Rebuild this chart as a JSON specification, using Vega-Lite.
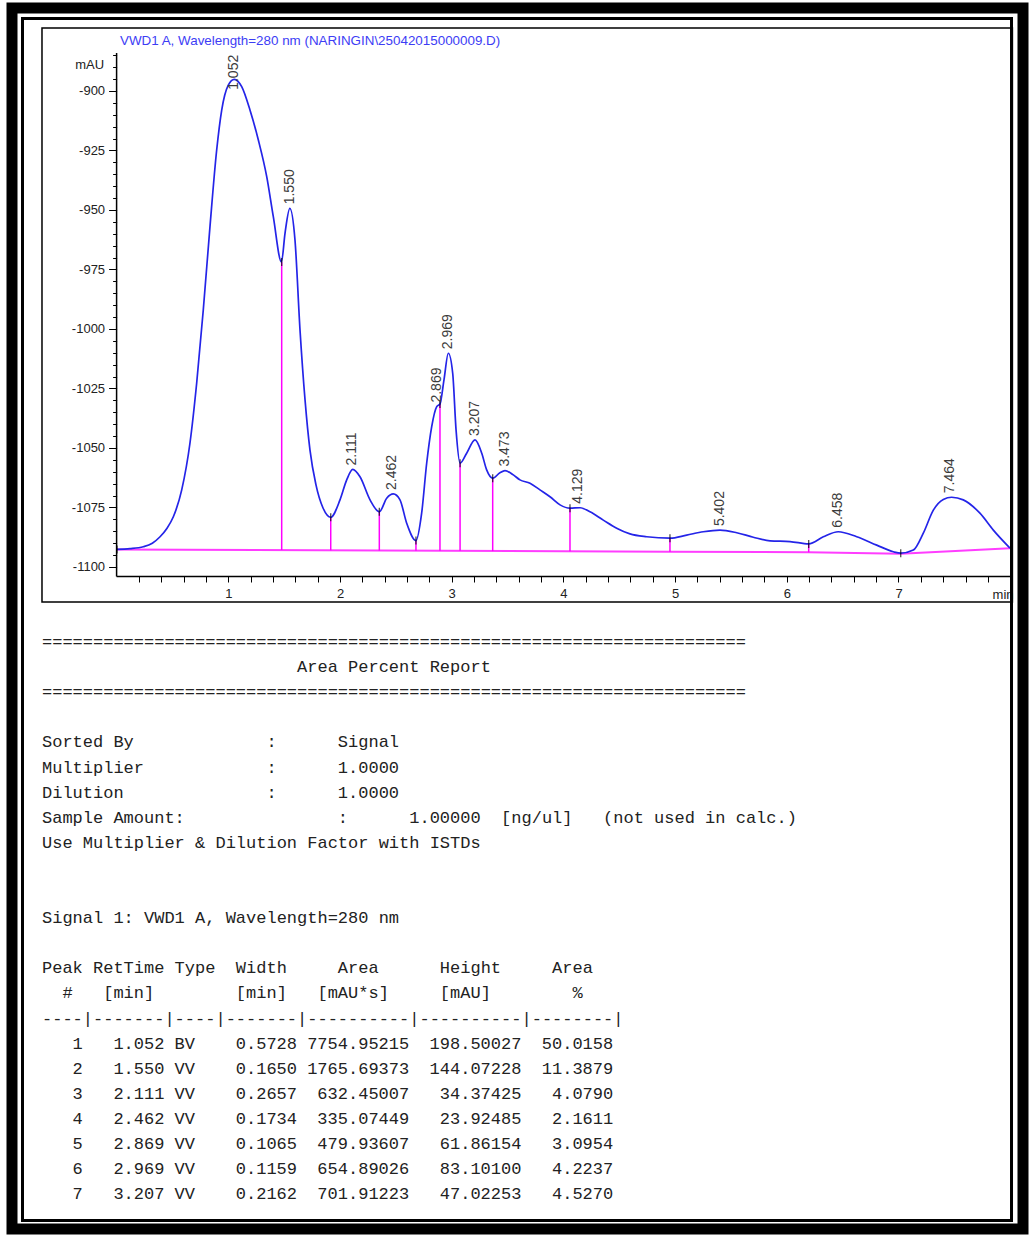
{
  "$schema": "https://vega.github.io/schema/vega-lite/v6.json",
  "width": 1011,
  "height": 1221,
  "padding": {"left": 12, "top": 8, "right": 9, "bottom": 7},
  "autosize": {"type": "none"},
  "background": "white",
  "config": {
    "view": {"stroke": "#000000", "strokeWidth": 11, "fill": "white"},
    "font": "Liberation Sans"
  },
  "title": {
    "text": "VWD1 A, Wavelength=280 nm (NARINGIN\\25042015000009.D)",
    "anchor": "start",
    "frame": "group",
    "dx": 108,
    "offset": -46,
    "baseline": "middle",
    "font": "Liberation Sans",
    "fontSize": 13.4,
    "fontWeight": "normal",
    "color": "#3d3df5"
  },
  "datasets": {
    "curve": [
      {"t": 0.000, "v": -1092.6}, {"t": 0.120, "v": -1092.3}, {"t": 0.239, "v": -1091.5}, {"t": 0.320, "v": -1090.0},
      {"t": 0.389, "v": -1087.3}, {"t": 0.450, "v": -1083.8}, {"t": 0.508, "v": -1078.9}, {"t": 0.583, "v": -1067.6},
      {"t": 0.657, "v": -1047.9}, {"t": 0.717, "v": -1022.7}, {"t": 0.776, "v": -992.0}, {"t": 0.836, "v": -957.0},
      {"t": 0.896, "v": -924.8}, {"t": 0.941, "v": -908.0}, {"t": 1.000, "v": -897.5}, {"t": 1.054, "v": -895.1},
      {"t": 1.120, "v": -898.2}, {"t": 1.194, "v": -908.0}, {"t": 1.269, "v": -920.6}, {"t": 1.344, "v": -936.0},
      {"t": 1.403, "v": -952.8}, {"t": 1.476, "v": -971.8}, {"t": 1.508, "v": -959.7}, {"t": 1.551, "v": -949.3},
      {"t": 1.597, "v": -962.6}, {"t": 1.642, "v": -1000.4}, {"t": 1.687, "v": -1029.8}, {"t": 1.731, "v": -1050.8},
      {"t": 1.785, "v": -1065.5}, {"t": 1.848, "v": -1075.2}, {"t": 1.917, "v": -1079.1}, {"t": 2.000, "v": -1071.8},
      {"t": 2.060, "v": -1063.4}, {"t": 2.114, "v": -1059.0}, {"t": 2.179, "v": -1062.1}, {"t": 2.269, "v": -1071.8},
      {"t": 2.352, "v": -1076.8}, {"t": 2.418, "v": -1071.1}, {"t": 2.477, "v": -1069.3}, {"t": 2.537, "v": -1071.8},
      {"t": 2.597, "v": -1081.6}, {"t": 2.680, "v": -1088.9}, {"t": 2.731, "v": -1077.4}, {"t": 2.776, "v": -1056.4},
      {"t": 2.821, "v": -1041.0}, {"t": 2.866, "v": -1032.6}, {"t": 2.895, "v": -1031.5}, {"t": 2.931, "v": -1021.4},
      {"t": 2.970, "v": -1010.2}, {"t": 3.009, "v": -1018.6}, {"t": 3.039, "v": -1042.4}, {"t": 3.075, "v": -1056.4},
      {"t": 3.134, "v": -1052.2}, {"t": 3.209, "v": -1046.6}, {"t": 3.269, "v": -1052.2}, {"t": 3.313, "v": -1059.2},
      {"t": 3.367, "v": -1062.7}, {"t": 3.432, "v": -1060.4}, {"t": 3.477, "v": -1059.5}, {"t": 3.552, "v": -1061.3},
      {"t": 3.611, "v": -1063.4}, {"t": 3.701, "v": -1064.8}, {"t": 3.790, "v": -1067.6}, {"t": 3.880, "v": -1070.5},
      {"t": 3.970, "v": -1073.9}, {"t": 4.059, "v": -1075.3}, {"t": 4.149, "v": -1075.1}, {"t": 4.238, "v": -1076.8},
      {"t": 4.357, "v": -1080.3}, {"t": 4.477, "v": -1083.7}, {"t": 4.596, "v": -1086.1}, {"t": 4.746, "v": -1087.3},
      {"t": 4.954, "v": -1087.9}, {"t": 5.104, "v": -1086.6}, {"t": 5.252, "v": -1085.2}, {"t": 5.402, "v": -1084.5},
      {"t": 5.552, "v": -1085.6}, {"t": 5.700, "v": -1087.5}, {"t": 5.850, "v": -1089.0}, {"t": 6.029, "v": -1089.3},
      {"t": 6.196, "v": -1090.3}, {"t": 6.327, "v": -1087.3}, {"t": 6.461, "v": -1085.2}, {"t": 6.626, "v": -1087.3},
      {"t": 6.805, "v": -1090.8}, {"t": 6.954, "v": -1093.6}, {"t": 7.020, "v": -1094.2}, {"t": 7.133, "v": -1092.9},
      {"t": 7.222, "v": -1085.8}, {"t": 7.312, "v": -1076.1}, {"t": 7.401, "v": -1071.6}, {"t": 7.476, "v": -1070.7},
      {"t": 7.580, "v": -1071.8}, {"t": 7.729, "v": -1077.4}, {"t": 7.849, "v": -1084.5}, {"t": 7.998, "v": -1092.1}
    ],
    "baseline": [
      {"t": 0.0, "v": -1092.6}, {"t": 4.954, "v": -1093.6}, {"t": 6.196, "v": -1093.8}, {"t": 7.020, "v": -1094.4}, {"t": 7.998, "v": -1092.1}
    ],
    "splits": [
      {"t": 0.004, "v": -1092.6, "b": -1092.6},
      {"t": 1.478, "v": -971.8, "b": -1092.9},
      {"t": 1.917, "v": -1079.1, "b": -1093.0},
      {"t": 2.352, "v": -1076.8, "b": -1093.1},
      {"t": 2.680, "v": -1088.9, "b": -1093.2},
      {"t": 2.895, "v": -1031.5, "b": -1093.2},
      {"t": 3.075, "v": -1056.4, "b": -1093.2},
      {"t": 3.367, "v": -1062.7, "b": -1093.3},
      {"t": 4.059, "v": -1075.3, "b": -1093.4},
      {"t": 4.954, "v": -1087.9, "b": -1093.6},
      {"t": 6.196, "v": -1090.3, "b": -1093.8},
      {"t": 7.020, "v": -1094.2, "b": -1094.4}
    ],
    "peaks": [
      {"peak": 1, "ret": 1.052, "type": "BV", "width": 0.5728, "area": 7754.95215, "height": 198.50027, "pct": 50.0158, "apex": -895.1},
      {"peak": 2, "ret": 1.550, "type": "VV", "width": 0.1650, "area": 1765.69373, "height": 144.07228, "pct": 11.3879, "apex": -949.3},
      {"peak": 3, "ret": 2.111, "type": "VV", "width": 0.2657, "area": 632.45007, "height": 34.37425, "pct": 4.0790, "apex": -1059.0},
      {"peak": 4, "ret": 2.462, "type": "VV", "width": 0.1734, "area": 335.07449, "height": 23.92485, "pct": 2.1611, "apex": -1069.3},
      {"peak": 5, "ret": 2.869, "type": "VV", "width": 0.1065, "area": 479.93607, "height": 61.86154, "pct": 3.0954, "apex": -1032.6},
      {"peak": 6, "ret": 2.969, "type": "VV", "width": 0.1159, "area": 654.89026, "height": 83.10100, "pct": 4.2237, "apex": -1010.2},
      {"peak": 7, "ret": 3.207, "type": "VV", "width": 0.2162, "area": 701.91223, "height": 47.02253, "pct": 4.5270, "apex": -1046.6},
      {"peak": 8, "ret": 3.473, "apex": -1059.5},
      {"peak": 9, "ret": 4.129, "apex": -1075.1},
      {"peak": 10, "ret": 5.402, "apex": -1084.5},
      {"peak": 11, "ret": 6.458, "apex": -1085.2},
      {"peak": 12, "ret": 7.464, "apex": -1070.7}
    ],
    "report": [
      {"line": 0, "text": "====================================================================="},
      {"line": 1, "text": "\u200b\u00a0\u00a0\u00a0\u00a0\u00a0\u00a0\u00a0\u00a0\u00a0\u00a0\u00a0\u00a0\u00a0\u00a0\u00a0\u00a0\u00a0\u00a0\u00a0\u00a0\u00a0\u00a0\u00a0\u00a0\u00a0Area Percent Report"},
      {"line": 2, "text": "====================================================================="},
      {"line": 4, "text": "Sorted By\u00a0\u00a0\u00a0\u00a0\u00a0\u00a0\u00a0\u00a0\u00a0\u00a0\u00a0\u00a0\u00a0:\u00a0\u00a0\u00a0\u00a0\u00a0\u00a0Signal"},
      {"line": 5, "text": "Multiplier\u00a0\u00a0\u00a0\u00a0\u00a0\u00a0\u00a0\u00a0\u00a0\u00a0\u00a0\u00a0:\u00a0\u00a0\u00a0\u00a0\u00a0\u00a01.0000"},
      {"line": 6, "text": "Dilution\u00a0\u00a0\u00a0\u00a0\u00a0\u00a0\u00a0\u00a0\u00a0\u00a0\u00a0\u00a0\u00a0\u00a0:\u00a0\u00a0\u00a0\u00a0\u00a0\u00a01.0000"},
      {"line": 7, "text": "Sample Amount:\u00a0\u00a0\u00a0\u00a0\u00a0\u00a0\u00a0\u00a0\u00a0\u00a0\u00a0\u00a0\u00a0\u00a0\u00a0:\u00a0\u00a0\u00a0\u00a0\u00a0\u00a01.00000\u00a0\u00a0[ng/ul]\u00a0\u00a0\u00a0(not used in calc.)"},
      {"line": 8, "text": "Use Multiplier & Dilution Factor with ISTDs"},
      {"line": 11, "text": "Signal 1: VWD1 A, Wavelength=280 nm"},
      {"line": 13, "text": "Peak RetTime Type\u00a0\u00a0Width\u00a0\u00a0\u00a0\u00a0\u00a0Area\u00a0\u00a0\u00a0\u00a0\u00a0\u00a0Height\u00a0\u00a0\u00a0\u00a0\u00a0Area"},
      {"line": 14, "text": "\u200b\u00a0\u00a0#\u00a0\u00a0\u00a0[min]\u00a0\u00a0\u00a0\u00a0\u00a0\u00a0\u00a0\u00a0[min]\u00a0\u00a0\u00a0[mAU*s]\u00a0\u00a0\u00a0\u00a0\u00a0[mAU]\u00a0\u00a0\u00a0\u00a0\u00a0\u00a0\u00a0\u00a0%"},
      {"line": 15, "text": "----|-------|----|-------|----------|----------|--------|"}
    ]
  },
  "layer": [
    {
      "layer": [
        {
          "data": {"values": [{}]},
          "mark": {"type": "rect", "filled": false, "stroke": "#000000", "strokeWidth": 1.5},
          "encoding": {
            "x": {"datum": -0.6679, "type": "quantitative", "scale": {"domain": [-0.9364, 8.1146], "nice": false, "zero": false}},
            "x2": {"datum": 8.0197},
            "y": {"datum": -873.53, "type": "quantitative", "scale": {"domain": [-1378.15, -865.13], "nice": false, "zero": false}},
            "y2": {"datum": -1114.71}
          }
        },
        {
          "data": {"name": "baseline"},
          "mark": {"type": "line", "color": "#ff3dff", "strokeWidth": 2},
          "encoding": {
            "x": {"field": "t", "type": "quantitative", "scale": {"domain": [-0.9364, 8.1146], "nice": false, "zero": false}},
            "y": {"field": "v", "type": "quantitative", "scale": {"domain": [-1378.15, -865.13], "nice": false, "zero": false}}
          }
        },
        {
          "data": {"name": "splits"},
          "mark": {"type": "rule", "color": "#ff00ff", "strokeWidth": 1.5},
          "encoding": {
            "x": {"field": "t", "type": "quantitative", "scale": {"domain": [-0.9364, 8.1146], "nice": false, "zero": false}},
            "y": {"field": "v", "type": "quantitative", "scale": {"domain": [-1378.15, -865.13], "nice": false, "zero": false}},
            "y2": {"field": "b"}
          }
        },
        {
          "data": {"name": "curve"},
          "mark": {"type": "line", "color": "#2424e8", "strokeWidth": 1.7, "interpolate": "monotone"},
          "encoding": {
            "x": {
              "field": "t", "type": "quantitative",
              "scale": {"domain": [-0.9364, 8.1146], "nice": false, "zero": false},
              "axis": {
                "orient": "bottom", "offset": -653, "domain": false, "grid": false, "tickCount": 200,
                "values": [0.2,0.4,0.6,0.8,1,1.2,1.4,1.6,1.8,2,2.2,2.4,2.6,2.8,3,3.2,3.4,3.6,3.8,4,4.2,4.4,4.6,4.8,5,5.2,5.4,5.6,5.8,6,6.2,6.4,6.6,6.8,7,7.2,7.4,7.6,7.8],
                "labelExpr": "abs(datum.value - round(datum.value)) < 0.01 ? '' + round(datum.value) : ''",
                "tickSize": 6, "tickColor": "#000000", "tickWidth": 1,
                "labelPadding": 5, "labelFont": "Liberation Sans", "labelFontSize": 13, "labelColor": "#222222",
                "labelOverlap": false, "labelFlush": false,
                "title": "min", "titleFont": "Liberation Sans", "titleFontSize": 13, "titleFontWeight": "normal", "titleColor": "#222222",
                "titleAlign": "right", "titleBaseline": "middle", "titleX": 1001, "titleY": 18, "titleAngle": 0
              }
            },
            "y": {
              "field": "v", "type": "quantitative",
              "scale": {"domain": [-1378.15, -865.13], "nice": false, "zero": false},
              "axis": {
                "orient": "left", "offset": -104.6, "domain": false, "grid": false, "tickCount": 200,
                "values": [-1100,-1095,-1090,-1085,-1080,-1075,-1070,-1065,-1060,-1055,-1050,-1045,-1040,-1035,-1030,-1025,-1020,-1015,-1010,-1005,-1000,-995,-990,-985,-980,-975,-970,-965,-960,-955,-950,-945,-940,-935,-930,-925,-920,-915,-910,-905,-900,-895,-890,-885],
                "labelExpr": "datum.value % 25 === 0 ? '' + datum.value : ''",
                "tickSize": {"condition": {"test": "datum.value % 25 === 0", "value": 8}, "value": 4},
                "tickColor": "#000000", "tickWidth": 1,
                "labelPadding": 4, "labelFont": "Liberation Sans", "labelFontSize": 13, "labelColor": "#222222",
                "labelOverlap": false, "labelFlush": false,
                "title": "mAU", "titleFont": "Liberation Sans", "titleFontSize": 13, "titleFontWeight": "normal", "titleColor": "#222222",
                "titleAngle": 0, "titleAlign": "right", "titleBaseline": "middle", "titleX": -13, "titleY": 56
              }
            }
          }
        },
        {
          "data": {"name": "splits"},
          "mark": {"type": "tick", "orient": "vertical", "color": "#000000", "size": 8, "thickness": 1.3},
          "encoding": {
            "x": {"field": "t", "type": "quantitative", "scale": {"domain": [-0.9364, 8.1146], "nice": false, "zero": false}},
            "y": {"field": "v", "type": "quantitative", "scale": {"domain": [-1378.15, -865.13], "nice": false, "zero": false}}
          }
        },
        {
          "data": {"values": [{}]},
          "mark": {"type": "rule", "color": "#000000", "strokeWidth": 1.5},
          "encoding": {
            "x": {"datum": 0, "type": "quantitative", "scale": {"domain": [-0.9364, 8.1146], "nice": false, "zero": false}},
            "y": {"datum": -1104, "type": "quantitative", "scale": {"domain": [-1378.15, -865.13], "nice": false, "zero": false}},
            "y2": {"datum": -884}
          }
        },
        {
          "data": {"values": [{}]},
          "mark": {"type": "rule", "color": "#000000", "strokeWidth": 1.5},
          "encoding": {
            "x": {"datum": 0, "type": "quantitative", "scale": {"domain": [-0.9364, 8.1146], "nice": false, "zero": false}},
            "x2": {"datum": 8.0},
            "y": {"datum": -1104, "type": "quantitative", "scale": {"domain": [-1378.15, -865.13], "nice": false, "zero": false}}
          }
        },
        {
          "data": {"name": "peaks"},
          "transform": [{"filter": "datum.peak != 1"}],
          "mark": {"type": "text", "angle": 270, "align": "left", "baseline": "middle", "dx": 4, "font": "Liberation Sans", "fontSize": 14, "color": "#3c3c3c"},
          "encoding": {
            "x": {"field": "ret", "type": "quantitative", "scale": {"domain": [-0.9364, 8.1146], "nice": false, "zero": false}},
            "y": {"field": "apex", "type": "quantitative", "scale": {"domain": [-1378.15, -865.13], "nice": false, "zero": false}},
            "text": {"field": "ret", "type": "quantitative", "format": ".3f"}
          }
        },
        {
          "data": {"name": "peaks"},
          "transform": [{"filter": "datum.peak == 1"}],
          "mark": {"type": "text", "angle": 270, "align": "left", "baseline": "middle", "dx": -10.5, "font": "Liberation Sans", "fontSize": 14, "color": "#3c3c3c"},
          "encoding": {
            "x": {"field": "ret", "type": "quantitative", "scale": {"domain": [-0.9364, 8.1146], "nice": false, "zero": false}},
            "y": {"field": "apex", "type": "quantitative", "scale": {"domain": [-1378.15, -865.13], "nice": false, "zero": false}},
            "text": {"field": "ret", "type": "quantitative", "format": ".3f"}
          }
        }
      ]
    },
    {
      "layer": [
        {
          "data": {"values": [{}]},
          "mark": {"type": "rect", "filled": false, "stroke": "#000000", "strokeWidth": 3},
          "encoding": {
            "x": {"datum": -1.912, "type": "quantitative", "scale": {"domain": [-2.9412, 96.176], "nice": false, "zero": false}, "axis": null},
            "x2": {"datum": 95.05},
            "y": {"datum": -24.84, "type": "quantitative", "scale": {"domain": [-25.259, 23.386], "reverse": true, "nice": false, "zero": false}, "axis": null},
            "y2": {"datum": 23.05}
          }
        },
        {
          "data": {"name": "report"},
          "mark": {"type": "text", "align": "left", "baseline": "middle", "font": "Liberation Mono", "fontSize": 17, "color": "#222222"},
          "encoding": {
            "x": {"datum": 0, "type": "quantitative", "scale": {"domain": [-2.9412, 96.176], "nice": false, "zero": false}, "axis": null},
            "y": {"field": "line", "type": "quantitative", "scale": {"domain": [-25.259, 23.386], "reverse": true, "nice": false, "zero": false}, "axis": null},
            "text": {"field": "text", "type": "nominal"}
          }
        }
      ]
    },
    {
      "data": {"name": "peaks"},
      "transform": [{"filter": "datum.peak <= 7"}],
      "encoding": {
        "y": {"field": "peak", "type": "quantitative", "scale": {"domain": [-40.259, 8.386], "reverse": true, "nice": false, "zero": false}, "axis": null}
      },
      "layer": [
        {
          "mark": {"type": "text", "align": "right", "baseline": "middle", "font": "Liberation Mono", "fontSize": 17, "color": "#222222"},
          "encoding": {
            "x": {"datum": 4, "type": "quantitative", "scale": {"domain": [-2.9412, 96.176], "nice": false, "zero": false}, "axis": null},
            "text": {"field": "peak", "type": "quantitative", "format": "d"}
          }
        },
        {
          "mark": {"type": "text", "align": "right", "baseline": "middle", "font": "Liberation Mono", "fontSize": 17, "color": "#222222"},
          "encoding": {
            "x": {"datum": 12, "type": "quantitative", "scale": {"domain": [-2.9412, 96.176], "nice": false, "zero": false}, "axis": null},
            "text": {"field": "ret", "type": "quantitative", "format": ".3f"}
          }
        },
        {
          "mark": {"type": "text", "align": "left", "baseline": "middle", "font": "Liberation Mono", "fontSize": 17, "color": "#222222"},
          "encoding": {
            "x": {"datum": 13, "type": "quantitative", "scale": {"domain": [-2.9412, 96.176], "nice": false, "zero": false}, "axis": null},
            "text": {"field": "type", "type": "nominal"}
          }
        },
        {
          "mark": {"type": "text", "align": "right", "baseline": "middle", "font": "Liberation Mono", "fontSize": 17, "color": "#222222"},
          "encoding": {
            "x": {"datum": 25, "type": "quantitative", "scale": {"domain": [-2.9412, 96.176], "nice": false, "zero": false}, "axis": null},
            "text": {"field": "width", "type": "quantitative", "format": ".4f"}
          }
        },
        {
          "mark": {"type": "text", "align": "right", "baseline": "middle", "font": "Liberation Mono", "fontSize": 17, "color": "#222222"},
          "encoding": {
            "x": {"datum": 36, "type": "quantitative", "scale": {"domain": [-2.9412, 96.176], "nice": false, "zero": false}, "axis": null},
            "text": {"field": "area", "type": "quantitative", "format": ".5f"}
          }
        },
        {
          "mark": {"type": "text", "align": "right", "baseline": "middle", "font": "Liberation Mono", "fontSize": 17, "color": "#222222"},
          "encoding": {
            "x": {"datum": 47, "type": "quantitative", "scale": {"domain": [-2.9412, 96.176], "nice": false, "zero": false}, "axis": null},
            "text": {"field": "height", "type": "quantitative", "format": ".5f"}
          }
        },
        {
          "mark": {"type": "text", "align": "right", "baseline": "middle", "font": "Liberation Mono", "fontSize": 17, "color": "#222222"},
          "encoding": {
            "x": {"datum": 56, "type": "quantitative", "scale": {"domain": [-2.9412, 96.176], "nice": false, "zero": false}, "axis": null},
            "text": {"field": "pct", "type": "quantitative", "format": ".4f"}
          }
        }
      ]
    }
  ],
  "resolve": {"scale": {"x": "independent", "y": "independent"}, "axis": {"x": "independent", "y": "independent"}}
}
